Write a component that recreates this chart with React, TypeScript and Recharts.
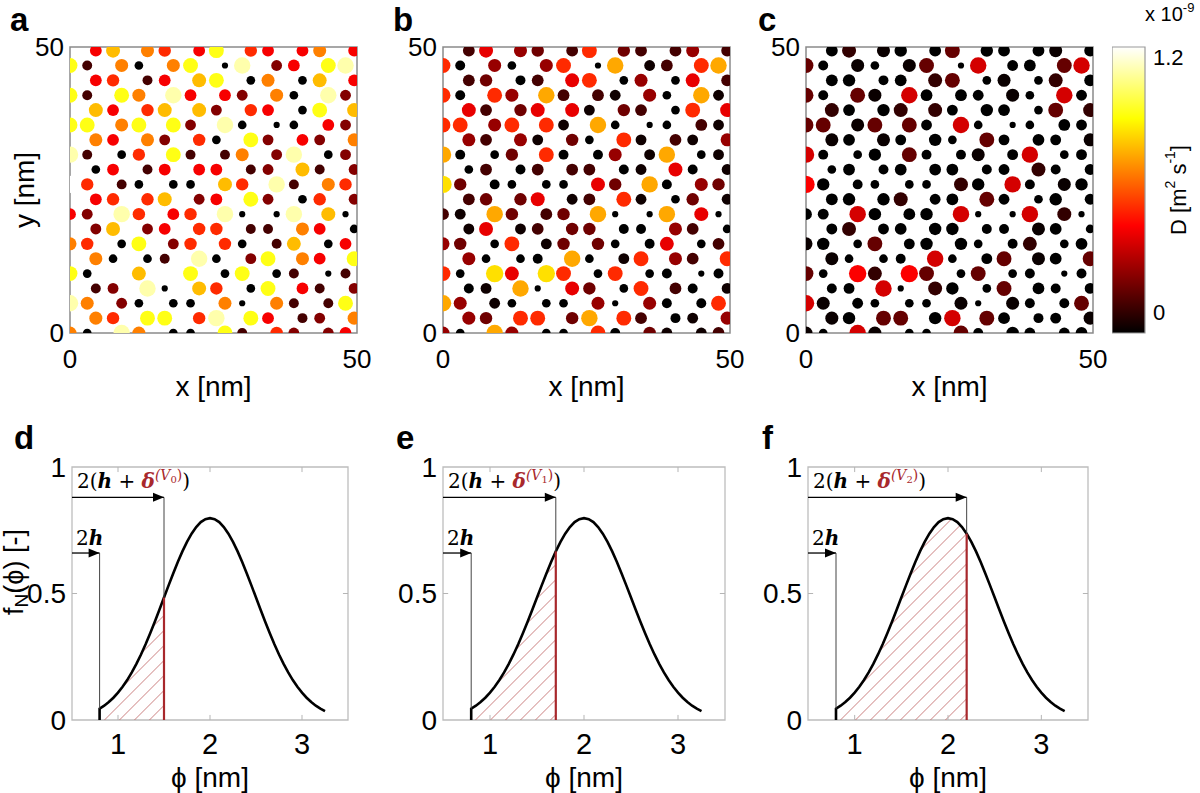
import React from 'react';
import {
  ScatterChart, Scatter, XAxis, YAxis, ReferenceArea, ComposedChart,
  Line, Area, ReferenceLine, ReferenceDot,
} from 'recharts';

// ---------- data: pore lattice (hexagonal / honeycomb), rows from bottom (y = 0) to top ----------
const ROW_Y = [0, 2.6, 5.2, 7.79, 10.39, 12.99, 15.59, 18.19, 20.78, 23.38, 25.98, 28.58, 31.18, 33.77, 36.37, 38.97, 41.57, 44.17, 46.77, 49.36];
const EVEN_ROW_X = [0, 3, 9, 12, 18, 21, 27, 30, 36, 39, 45, 48];
const ODD_ROW_X = [4.5, 7.5, 13.5, 16.5, 22.5, 25.5, 31.5, 34.5, 40.5, 43.5, 49.5];

const PORE_LEVEL_ROWS = [
  [6, 1, 9, 6, 1, 1, 8, 2, 5, 3, 3, 4],
  [6, 5, 8, 8, 5, 9, 8, 4, 2, 3, 6],
  [9, 6, 3, 1, 1, 1, 6, 0, 6, 2, 2, 8],
  [2, 3, 9, 0, 7, 5, 1, 8, 4, 2, 3],
  [8, 1, 10, 7, 10, 8, 1, 8, 1, 2, 0, 2],
  [6, 1, 1, 2, 9, 1, 3, 8, 6, 4, 8],
  [6, 5, 1, 8, 3, 5, 5, 1, 2, 7, 1, 4],
  [3, 7, 3, 4, 5, 5, 2, 2, 6, 4, 1],
  [4, 3, 9, 5, 4, 5, 9, 0, 0, 9, 7, 0],
  [4, 5, 5, 7, 3, 4, 8, 3, 1, 5, 3],
  [10, 5, 2, 1, 1, 1, 7, 5, 9, 2, 6, 5],
  [1, 4, 2, 4, 4, 4, 2, 3, 7, 2, 3],
  [9, 2, 1, 5, 8, 2, 2, 6, 3, 9, 1, 3],
  [6, 4, 6, 3, 5, 1, 8, 3, 4, 3, 6],
  [8, 8, 6, 8, 8, 3, 9, 1, 0, 1, 4, 3],
  [7, 4, 5, 7, 7, 3, 5, 4, 1, 8, 7],
  [8, 2, 8, 6, 9, 4, 4, 3, 6, 1, 9, 3],
  [4, 5, 2, 4, 7, 8, 1, 6, 1, 7, 4],
  [8, 2, 6, 1, 6, 8, 0, 9, 3, 4, 8, 9],
  [4, 7, 6, 5, 4, 8, 5, 4, 4, 6, 4],
];

// pore diameter (nm) of each size class
const PHI_BY_LEVEL = [1.0, 1.4, 1.6, 1.75, 1.9, 2.0, 2.1, 2.25, 2.4, 2.65, 2.8];
// diffusion coefficient D (x 1e-9 m^2/s) of each size class, per panel
const D_PANEL_A = [-0.1, -0.1, 0.035, 0.16, 0.39, 0.49, 0.66, 0.78, 0.94, 1.14, 1.25];
const D_PANEL_B = [-0.1, -0.1, -0.1, -0.07, 0.035, 0.12, 0.2, 0.36, 0.49, 0.74, 0.85];
const D_PANEL_C = [-0.1, -0.1, -0.1, -0.1, -0.1, -0.1, -0.08, 0.0, 0.1, 0.32, 0.4];

const XY_TICKS = [0, 50];
const CBAR_TICKS = [0, 1.2];
const CMIN = -0.1;
const CMAX = 1.25;

// ---------- data: pore size distribution ----------
const CURVE_PHI = [0.8, 0.85, 0.9, 0.95, 1.0, 1.05, 1.1, 1.15, 1.2, 1.25, 1.3, 1.35, 1.4, 1.45, 1.5, 1.55, 1.6, 1.65, 1.7, 1.75, 1.8, 1.85, 1.9, 1.95, 2.0, 2.05, 2.1, 2.15, 2.2, 2.25, 2.3, 2.35, 2.4, 2.45, 2.5, 2.55, 2.6, 2.65, 2.7, 2.75, 2.8, 2.85, 2.9, 2.95, 3.0, 3.05, 3.1, 3.15, 3.2, 3.25];
const CURVE_F = [0.0448, 0.0566, 0.0709, 0.088, 0.108, 0.1312, 0.1579, 0.1881, 0.2218, 0.2591, 0.2995, 0.3428, 0.3884, 0.4357, 0.4839, 0.5322, 0.5794, 0.6245, 0.6665, 0.7041, 0.7366, 0.7628, 0.7821, 0.7939, 0.7979, 0.7939, 0.7821, 0.7628, 0.7366, 0.7041, 0.6665, 0.6245, 0.5794, 0.5322, 0.4839, 0.4357, 0.3884, 0.3428, 0.2995, 0.2591, 0.2218, 0.1881, 0.1579, 0.1312, 0.108, 0.088, 0.0709, 0.0566, 0.0448, 0.0351];
const TWO_H = 0.8;
const THRESHOLDS = [1.5, 1.7, 2.2];
const V_SUBS = ['0', '1', '2'];
const PHI_TICKS = [1, 2, 3];
const F_TICKS = [0, 0.5, 1];
const ARROW_HIGH = 0.88;
const ARROW_LOW = 0.66;

// ---------- styling ----------
const SANS = "'Liberation Sans', Arial, Helvetica, sans-serif";
const SERIF = "'DejaVu Serif', 'Liberation Serif', serif";
const DARK_RED = '#a8282c';

function hot(D: number): string {
  let t = (D - CMIN) / (CMAX - CMIN);
  t = Math.max(0, Math.min(1, t));
  const r = Math.min(1, t / 0.375);
  const g = Math.max(0, Math.min(1, (t - 0.375) / 0.375));
  const b = Math.max(0, Math.min(1, (t - 0.75) / 0.25));
  return `rgb(${Math.round(r * 255)},${Math.round(g * 255)},${Math.round(b * 255)})`;
}

function buildPores(dTable: number[]) {
  const out: { x: number; y: number; phi: number; D: number }[] = [];
  PORE_LEVEL_ROWS.forEach((row, r) => {
    const xs = r % 2 === 0 ? EVEN_ROW_X : ODD_ROW_X;
    row.forEach((lvl, i) => {
      out.push({ x: xs[i], y: ROW_Y[r], phi: PHI_BY_LEVEL[lvl], D: dTable[lvl] });
    });
  });
  return out;
}

const PoreShape = (props: any) => {
  const p = props.payload ?? props;
  if (props.cx == null || props.cy == null) return <g />;
  return <circle cx={props.cx} cy={props.cy} r={p.phi * 3.1} fill={hot(p.D)} />;
};

const TOP_PLOT_TOP = 47;
const TOP_PLOT_H = 286;
const TOP_YAXIS_W = 70;
const TOP_MT = 22;
const TOP_MR = 30;

function PorePanel({ left, width, dTable }: { left: number; width: number; dTable: number[] }) {
  const data = buildPores(dTable);
  return (
    <div style={{ position: 'absolute', left: left - TOP_YAXIS_W, top: TOP_PLOT_TOP - TOP_MT }}>
      <ScatterChart width={TOP_YAXIS_W + width + TOP_MR} height={TOP_MT + TOP_PLOT_H + 70} margin={{ top: TOP_MT, right: TOP_MR, bottom: 0, left: 0 }}>
        <XAxis type="number" dataKey="x" domain={[0, 50]} ticks={XY_TICKS} interval={0} allowDataOverflow
          height={70} axisLine={false} tickLine={false} tickSize={6} tickMargin={11}
          tick={{ fontSize: 26, fill: '#000', fontFamily: SANS }} />
        <YAxis type="number" dataKey="y" domain={[0, 50]} ticks={XY_TICKS} interval={0} allowDataOverflow
          width={TOP_YAXIS_W} axisLine={false} tickLine={false} tickSize={6} tickMargin={0}
          tick={{ fontSize: 26, fill: '#000', fontFamily: SANS }} />
        <Scatter data={data} shape={PoreShape} isAnimationActive={false} />
        <ReferenceArea x1={0} x2={50} y1={0} y2={50} fill="none" fillOpacity={0} stroke="#8a8a8a" strokeWidth={1.5} ifOverflow="visible" />
      </ScatterChart>
    </div>
  );
}

const ArrowHead = (props: any) => {
  const { cx, cy } = props;
  if (cx == null) return <g />;
  return <polygon points={`${cx},${cy} ${cx - 11},${cy - 4.5} ${cx - 11},${cy + 4.5}`} fill="#000" />;
};

const BOT_TOP = 467;
const BOT_H = 253;
const BOT_YAXIS_W = 75;

function DistPanel({ left, width, idx }: { left: number; width: number; idx: number }) {
  const threshold = THRESHOLDS[idx];
  const sub = V_SUBS[idx];
  const curve = CURVE_PHI.map((p, i) => ({ phi: p, f: CURVE_F[i] }));
  const curveData = [{ phi: TWO_H, f: 0 }, ...curve];
  const hatch = curve.filter((d) => d.phi <= threshold + 1e-9);
  const fT = hatch[hatch.length - 1].f;
  const f0 = curve[0].f;
  const pid = `hatch-${idx}`;
  const tickC = '#b5b5b5';
  const DeltaLabel = (p: any) => (
    <text x={p.cx + 5} y={p.cy - 9} fontFamily={SERIF} fontSize={20} fill="#000">
      <tspan>2(</tspan>
      <tspan fontWeight="bold" fontStyle="italic">h</tspan>
      <tspan> + </tspan>
      <tspan fontWeight="bold" fontStyle="italic" fill={DARK_RED}>δ</tspan>
      <tspan fontStyle="italic" fill={DARK_RED} fontSize={14} dy={-8}>(V</tspan>
      <tspan fill={DARK_RED} fontSize={10} dy={3}>{sub}</tspan>
      <tspan fill={DARK_RED} fontSize={14} dy={-3}>)</tspan>
      <tspan dy={8}>)</tspan>
    </text>
  );
  const HLabel = (p: any) => (
    <text x={p.cx + 4} y={p.cy - 8} fontFamily={SERIF} fontSize={20} fill="#000">
      <tspan>2</tspan>
      <tspan fontWeight="bold" fontStyle="italic">h</tspan>
    </text>
  );
  return (
    <div style={{ position: 'absolute', left: left - BOT_YAXIS_W, top: BOT_TOP - 15 }}>
      <ComposedChart width={BOT_YAXIS_W + width + 20} height={15 + BOT_H + 45} margin={{ top: 15, right: 20, bottom: 0, left: 0 }}>
        <defs>
          <pattern id={pid} patternUnits="userSpaceOnUse" width="10.6" height="10.6" patternTransform="rotate(45)">
            <line x1="0" y1="0" x2="0" y2="10.6" stroke="#c26a6a" strokeWidth="1.3" />
          </pattern>
        </defs>
        <XAxis type="number" dataKey="phi" domain={[0.5, 3.5]} ticks={PHI_TICKS} interval={0} allowDataOverflow
          height={45} axisLine={false} tickLine={false} tickSize={6} tickMargin={7}
          tick={{ fontSize: 29, fill: '#000', fontFamily: SANS }} />
        <YAxis type="number" domain={[0, 1]} ticks={F_TICKS} interval={0} allowDataOverflow
          width={BOT_YAXIS_W} axisLine={false} tickLine={false} tickSize={6} tickMargin={0}
          tick={{ fontSize: 28, fill: '#000', fontFamily: SANS }} />
        <ReferenceArea x1={0.5} x2={3.5} y1={0} y2={1} fill="none" fillOpacity={0} stroke="#bdbdbd" strokeWidth={1.3} ifOverflow="visible" />
        {PHI_TICKS.map((t) => (
          <ReferenceLine key={`b${t}`} segment={[{ x: t, y: 0 }, { x: t, y: 0.02 }]} stroke={tickC} ifOverflow="visible" />
        ))}
        {PHI_TICKS.map((t) => (
          <ReferenceLine key={`t${t}`} segment={[{ x: t, y: 0.98 }, { x: t, y: 1 }]} stroke={tickC} ifOverflow="visible" />
        ))}
        <ReferenceLine segment={[{ x: 0.5, y: 0.5 }, { x: 0.555, y: 0.5 }]} stroke={tickC} ifOverflow="visible" />
        <ReferenceLine segment={[{ x: 3.445, y: 0.5 }, { x: 3.5, y: 0.5 }]} stroke={tickC} ifOverflow="visible" />
        <Area data={hatch} dataKey="f" type="linear" stroke="none" fill={`url(#${pid})`} fillOpacity={1}
          isAnimationActive={false} dot={false} activeDot={false} />
        <Line data={curveData} dataKey="f" type="linear" stroke="#000" strokeWidth={2.6} dot={false} activeDot={false}
          isAnimationActive={false} />
        {/* 2h arrow */}
        <ReferenceLine segment={[{ x: 0.5, y: ARROW_LOW }, { x: TWO_H, y: ARROW_LOW }]} stroke="#000" strokeWidth={1.3} ifOverflow="visible" />
        <ReferenceLine segment={[{ x: TWO_H, y: ARROW_LOW }, { x: TWO_H, y: f0 }]} stroke="#444" strokeWidth={1} ifOverflow="visible" />
        <ReferenceDot x={TWO_H} y={ARROW_LOW} r={0} ifOverflow="visible" shape={ArrowHead} />
        <ReferenceDot x={0.5} y={ARROW_LOW} r={0} ifOverflow="visible" shape={HLabel} />
        {/* 2(h + delta) arrow */}
        <ReferenceLine segment={[{ x: 0.5, y: ARROW_HIGH }, { x: threshold, y: ARROW_HIGH }]} stroke="#000" strokeWidth={1.3} ifOverflow="visible" />
        <ReferenceLine segment={[{ x: threshold, y: ARROW_HIGH }, { x: threshold, y: fT }]} stroke="#444" strokeWidth={1} ifOverflow="visible" />
        <ReferenceLine segment={[{ x: threshold, y: 0 }, { x: threshold, y: fT }]} stroke={DARK_RED} strokeWidth={2.2} ifOverflow="visible" />
        <ReferenceDot x={threshold} y={ARROW_HIGH} r={0} ifOverflow="visible" shape={ArrowHead} />
        <ReferenceDot x={0.5} y={ARROW_HIGH} r={0} ifOverflow="visible" shape={DeltaLabel} />
      </ComposedChart>
    </div>
  );
}

const CBAR_LEFT = 1112;
const CBAR_W = 33;
const CBAR_TOP = 47;
const CBAR_H = 286;

function ColorBar() {
  return (
    <div style={{ position: 'absolute', left: CBAR_LEFT, top: CBAR_TOP - 15 }}>
      <ComposedChart width={CBAR_W + 60} height={15 + CBAR_H + 15} margin={{ top: 15, right: 0, bottom: 15, left: 0 }}
        data={[{ c: 0, v: CMIN }, { c: 1, v: CMAX }]}>
        <defs>
          <linearGradient id="hotGrad" x1="0" y1="1" x2="0" y2="0">
            <stop offset="0" stopColor="#000000" />
            <stop offset="0.375" stopColor="#ff0000" />
            <stop offset="0.75" stopColor="#ffff00" />
            <stop offset="1" stopColor="#ffffff" />
          </linearGradient>
        </defs>
        <XAxis type="number" dataKey="c" domain={[0, 1]} hide />
        <YAxis type="number" dataKey="v" orientation="right" domain={[CMIN, CMAX]} ticks={CBAR_TICKS} interval={0}
          allowDataOverflow width={60} axisLine={false} tickLine={false} tickSize={6} tickMargin={2}
          tick={{ fontSize: 22, fill: '#000', fontFamily: SANS }} />
        <ReferenceArea x1={0} x2={1} y1={CMIN} y2={CMAX} fill="url(#hotGrad)" fillOpacity={1} stroke="#9a9a9a" strokeWidth={1.2} ifOverflow="visible" />
      </ComposedChart>
    </div>
  );
}

const TOP_PANELS = [
  { left: 70, width: 287, d: D_PANEL_A, letter: 'a', lx: 10 },
  { left: 443, width: 287, d: D_PANEL_B, letter: 'b', lx: 393 },
  { left: 806, width: 287, d: D_PANEL_C, letter: 'c', lx: 758 },
];
const BOT_PANELS = [
  { left: 72, width: 276, letter: 'd', lx: 14 },
  { left: 443, width: 282, letter: 'e', lx: 396 },
  { left: 808, width: 280, letter: 'f', lx: 762 },
];

export default function App() {
  return (
    <div style={{ position: 'absolute', left: 0, top: 0, width: 1200, height: 793, overflow: 'hidden', background: '#fff' }}>
      {TOP_PANELS.map((p) => (
        <PorePanel key={p.letter} left={p.left} width={p.width} dTable={p.d} />
      ))}
      {BOT_PANELS.map((p, i) => (
        <DistPanel key={p.letter} left={p.left} width={p.width} idx={i} />
      ))}
      <ColorBar />
      <svg width={1200} height={793} style={{ position: 'absolute', left: 0, top: 0, pointerEvents: 'none' }}>
        <g fontFamily={SANS} fill="#000">
          {TOP_PANELS.map((p) => (
            <text key={p.letter} x={p.lx} y={31} fontSize={33} fontWeight="bold">{p.letter}</text>
          ))}
          {BOT_PANELS.map((p) => (
            <text key={p.letter} x={p.lx} y={449} fontSize={33} fontWeight="bold">{p.letter}</text>
          ))}
          {TOP_PANELS.map((p) => (
            <text key={`xl${p.letter}`} x={p.left + p.width / 2} y={396} fontSize={28} textAnchor="middle">x [nm]</text>
          ))}
          <text x={24} y={190} fontSize={28} textAnchor="middle" dominantBaseline="central" transform="rotate(-90 24 190)">y [nm]</text>
          {BOT_PANELS.map((p) => (
            <text key={`pl${p.letter}`} x={p.left + p.width / 2} y={787} fontSize={28} textAnchor="middle">ϕ [nm]</text>
          ))}
          <text x={14} y={572} fontSize={27} textAnchor="middle" dominantBaseline="central" transform="rotate(-90 14 572)">
            f<tspan fontSize={19} dy={7}>N</tspan><tspan dy={-7}>(ϕ) [-]</tspan>
          </text>
          <text x={1178} y={190} fontSize={22} textAnchor="middle" dominantBaseline="central" transform="rotate(-90 1178 190)">
            D [m<tspan fontSize={14} dy={-8}>2</tspan><tspan dy={8}> s</tspan><tspan fontSize={14} dy={-8}>-1</tspan><tspan dy={8}>]</tspan>
          </text>
          <text x={1145} y={21} fontSize={20}>
            x 10<tspan fontSize={13} dy={-9}>-9</tspan>
          </text>
        </g>
      </svg>
    </div>
  );
}
